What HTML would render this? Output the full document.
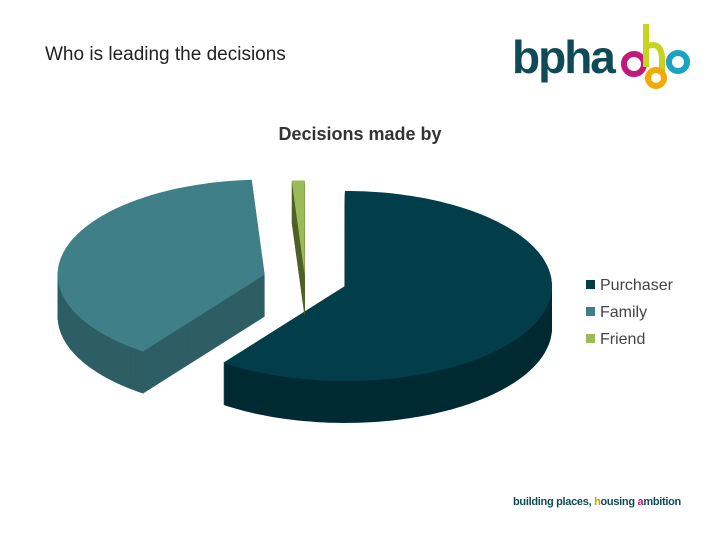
<!DOCTYPE html>
<html><head><meta charset="utf-8"><style>
body{margin:0;background:#fff}
#wrap{position:relative;width:720px;height:540px;overflow:hidden;font-family:"Liberation Sans",sans-serif}
</style></head><body>
<div id="wrap">
<div style="position:absolute;left:45px;top:44px;font-size:19px;color:#222">Who is leading the decisions</div>
<div style="position:absolute;left:510px;top:22px;width:190px;height:70px">
<span style="position:absolute;left:2px;top:8px;font-size:46px;font-weight:bold;color:#0f4b57;letter-spacing:-2px">bpha</span>
<svg width="190" height="70" style="position:absolute;left:0;top:0">
<circle cx="124" cy="42" r="10" fill="none" stroke="#c2187a" stroke-width="6"/>
<path d="M136 2 L136 45 M136 25 Q150 18 152 35 L152 50" fill="none" stroke="#c8d31e" stroke-width="6"/>
<circle cx="168" cy="40" r="9" fill="none" stroke="#1ba2c4" stroke-width="6"/>
<circle cx="146" cy="56" r="8" fill="none" stroke="#f5a800" stroke-width="6"/>
</svg></div>
<svg id="chart" width="720" height="540" style="position:absolute;left:0;top:0">
<text x="360" y="140" text-anchor="middle" font-size="18" font-weight="bold" fill="#333" font-family="Liberation Sans, sans-serif">Decisions made by</text>
<g id="pie"></g>
<g id="legend"></g>
</svg>
<div style="position:absolute;left:513px;top:496px;font-size:11px;font-weight:bold;color:#0f4b57;letter-spacing:-0.3px">building places, <span style="color:#c8a000">h</span>ousing <span style="color:#c2187a">a</span>mbition</div>
</div>
<script>
const categories=["Purchaser","Family","Friend"];
const values=[60,39,1];
const topColors=["#023e4a","#3f7f87","#9bbb59"];
const sideColors=["#012a33","#2e5e65","#4f6228"];
const cx=305,cy=280,rx=207,ry=95,depth=42;
const explode=[42,42,10];
const NS="http://www.w3.org/2000/svg";
const pie=document.getElementById('pie');
const total=values.reduce((a,b)=>a+b,0);
function pt(c,t){return [c[0]+rx*Math.sin(t),c[1]-ry*Math.cos(t)];}
let a=0;
const slices=[];
values.forEach((v,i)=>{
  const a0=a,a1=a+v/total*2*Math.PI;a=a1;
  const m=(a0+a1)/2;
  const c=[cx+explode[i]*Math.sin(m),cy-explode[i]*Math.cos(m)*ry/rx];
  let d="M"+c[0]+" "+c[1];
  const n=Math.max(4,Math.ceil((a1-a0)*40));
  for(let k=0;k<=n;k++){const p=pt(c,a0+(a1-a0)*k/n);d+=" L"+p[0].toFixed(1)+" "+p[1].toFixed(1);}
  d+="Z";
  slices.push({d,i});
});
slices.forEach(s=>{
  const g=document.createElementNS(NS,'g');
  
  
  for(let k=depth;k>0;k-=1){
    const p=document.createElementNS(NS,'path');
    p.setAttribute('d',s.d);p.setAttribute('fill',sideColors[s.i]);
    p.setAttribute('transform','translate(0,'+k+')');
    g.appendChild(p);
  }
  const top=document.createElementNS(NS,'path');
  top.setAttribute('d',s.d);top.setAttribute('fill',topColors[s.i]);
  g.appendChild(top);
  pie.appendChild(g);
});
const leg=document.getElementById('legend');
categories.forEach((c,i)=>{
  const g=document.createElementNS(NS,'g');
  
  
  const r=document.createElementNS(NS,'rect');
  r.setAttribute('x',586);r.setAttribute('y',280+i*27);r.setAttribute('width',9);r.setAttribute('height',9);r.setAttribute('fill',topColors[i]);
  const t=document.createElementNS(NS,'text');
  t.setAttribute('x',600);t.setAttribute('y',290+i*27);t.setAttribute('font-size','16');t.setAttribute('fill','#444');
  t.setAttribute('font-family','Liberation Sans, sans-serif');t.textContent=c;
  g.appendChild(r);g.appendChild(t);leg.appendChild(g);
});
</script>
</body></html>
